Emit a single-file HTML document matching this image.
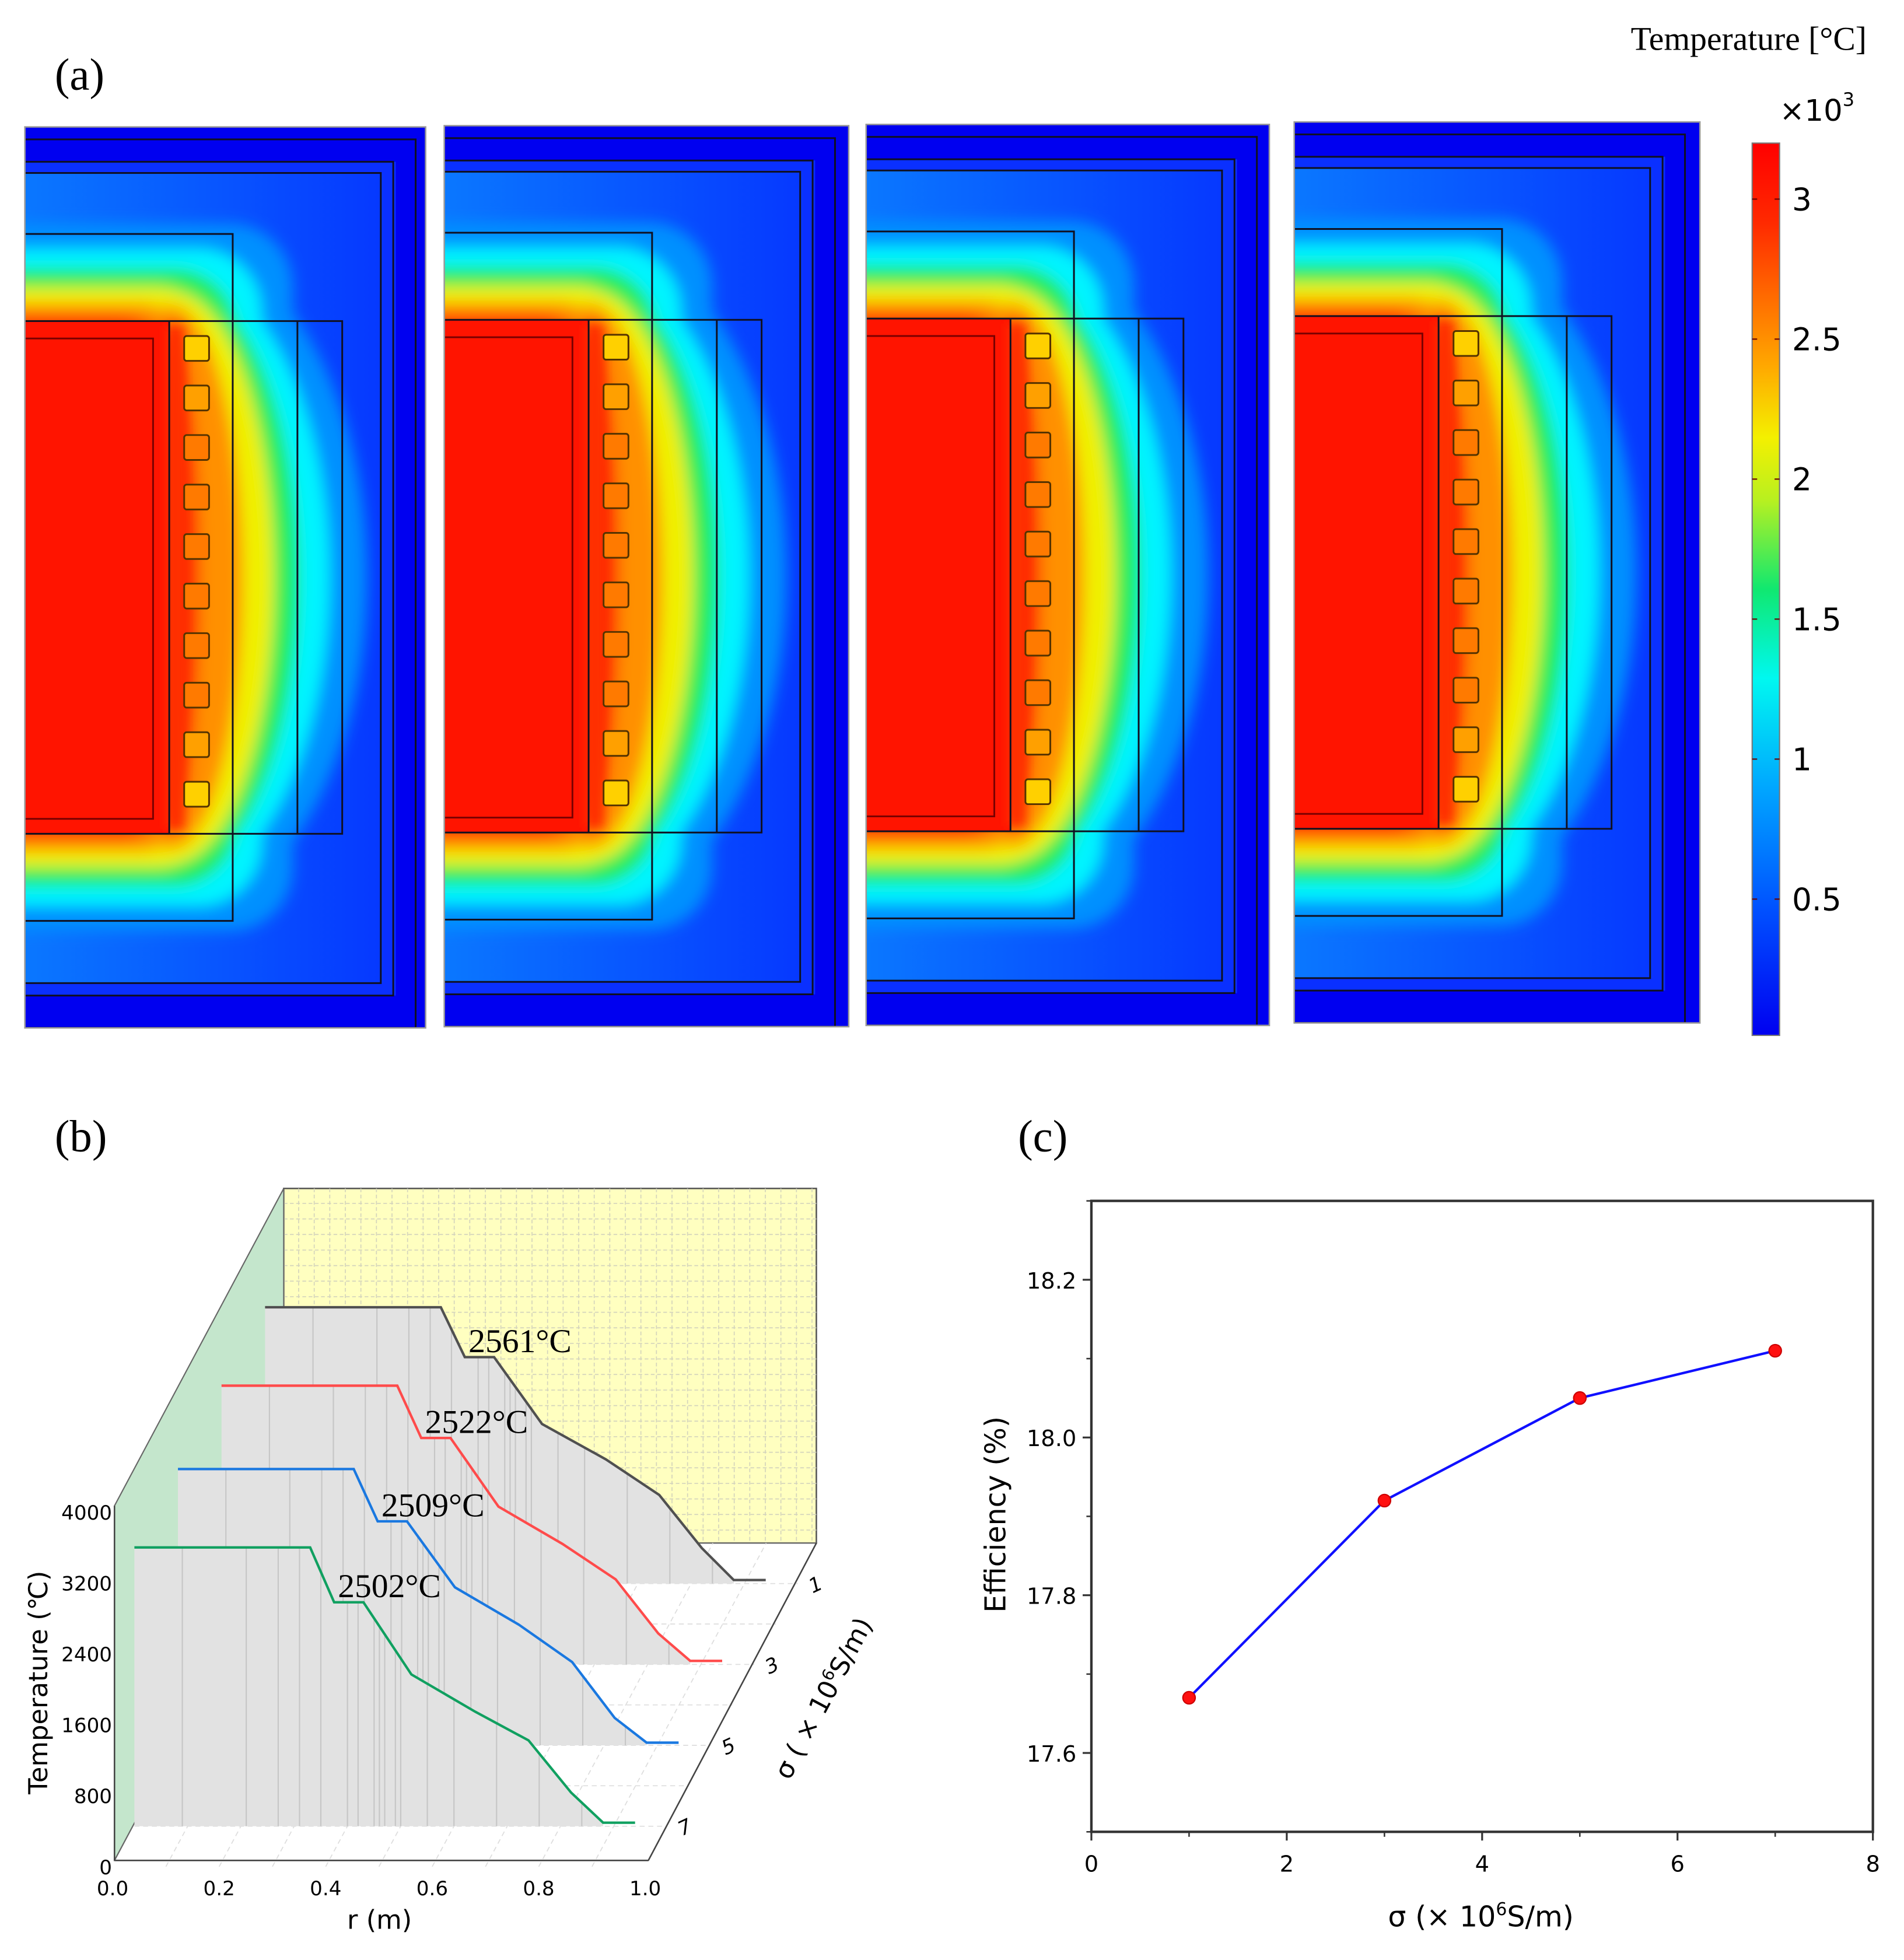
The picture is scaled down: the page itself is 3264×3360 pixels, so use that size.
<!DOCTYPE html>
<html><head><meta charset="utf-8">
<style>
html,body{margin:0;padding:0;background:#fff;}
svg{display:block;}
.serif{font-family:"Liberation Serif",serif;}
.sans{font-family:"DejaVu Sans","Liberation Sans",sans-serif;}
</style></head>
<body>
<svg id="fig" width="3264" height="3360" viewBox="0 0 1530 1575" preserveAspectRatio="none" xmlns="http://www.w3.org/2000/svg">
<defs>
 <filter id="blur" x="-50%" y="-50%" width="200%" height="200%"><feGaussianBlur stdDeviation="6"/></filter>
 <filter id="blur2" x="-50%" y="-50%" width="200%" height="200%"><feGaussianBlur stdDeviation="4"/></filter>
 <linearGradient id="cbar" x1="0" y1="0" x2="0" y2="1">
  <stop offset="0" stop-color="#ff0000"/>
  <stop offset="0.09" stop-color="#ff2a00"/>
  <stop offset="0.25" stop-color="#ffa800"/>
  <stop offset="0.33" stop-color="#f4f000"/>
  <stop offset="0.4" stop-color="#b8f020"/>
  <stop offset="0.5" stop-color="#10e870"/>
  <stop offset="0.6" stop-color="#00f8f0"/>
  <stop offset="0.72" stop-color="#00a8ff"/>
  <stop offset="0.86" stop-color="#0050ff"/>
  <stop offset="1" stop-color="#0000f0"/>
 </linearGradient>
 <linearGradient id="bgblue" x1="0" y1="0" x2="1" y2="0">
  <stop offset="0" stop-color="#0a78ff"/>
  <stop offset="1" stop-color="#0638ff"/>
 </linearGradient>
</defs>

<g id="panelA">
 <text class="serif" x="44" y="72" font-size="36">(a)</text>
 <text class="serif" x="1500" y="40" font-size="27" text-anchor="end">Temperature [°C]</text>
 <g id="sims"></g>
 <rect x="1408" y="115" width="22" height="717" fill="url(#cbar)" stroke="#777" stroke-width="1"/>
 <g id="cbticks"></g>
 <text class="sans" x="1430" y="97" font-size="24">×10<tspan font-size="15" dy="-12">3</tspan></text>
</g>

<g id="panelB">
 <text class="serif" x="44" y="925" font-size="36">(b)</text>
 <g id="b3d"></g>
</g>

<g id="panelC">
 <text class="serif" x="818" y="925" font-size="36">(c)</text>
 <g id="cplot"></g>
</g>
</svg>

<script>
const NS="http://www.w3.org/2000/svg";
function mk(tag, attrs, parent){const e=document.createElementNS(NS,tag);for(const k in attrs)e.setAttribute(k,attrs[k]);if(parent)parent.appendChild(e);return e;}

// ---------- Panel (a) data ----------
const simLefts=[20,357,696,1040];
const simTops=[102,101,100,98];
const simWidths=[322,325,324,326];
const cbTicks=[0.5,1,1.5,2,2.5,3];

const sims=document.getElementById('sims');
simLefts.forEach((L,i)=>{
 const T=simTops[i], W=simWidths[i], dy=T-102;
 const g=mk('g',{transform:`translate(${L},${dy})`},sims);
 
 
 const cid='clip'+i;
 const cp=mk('clipPath',{id:cid},g);
 mk('rect',{x:0,y:102,width:W,height:724},cp);
 const c=mk('g',{'clip-path':`url(#${cid})`},g);
 mk('rect',{x:0,y:102,width:W,height:724,fill:'#0000f0'},c);
 mk('rect',{x:-2,y:130,width:300,height:670,fill:'#0a30ff'},c);
 mk('rect',{x:-2,y:139,width:290,height:651,fill:'url(#bgblue)'},c);
 const f=mk('g',{filter:'url(#blur)'},c);
 // [color, rectRight, top, bottom, ellipseRx, ellipseRy]
 const levels=[
  ['#0090ff',215,180,748,157,270],
  ['#00f4ff',190,200,728,127,250],
  ['#20ec58',170,216,712,102,240],
  ['#f0f000',156,231,697,82,230],
  ['#ff9000',141,244,684,57,218],
  ['#ff2800',126,254,674,22,205]];
 levels.forEach(l=>{
  mk('rect',{x:-60,y:l[2],width:60+l[1],height:l[3]-l[2],rx:50,fill:l[0]},f);
  mk('ellipse',{cx:118,cy:464,rx:l[4],ry:l[5],fill:l[0]},f);
 });
 mk('rect',{x:-2,y:258,width:118,height:412,fill:'#ff1400'},c);
 mk('rect',{x:114,y:262,width:14,height:404,fill:'#ff3000',filter:'url(#blur2)'},c);
 const ln={fill:'none',stroke:'#101020','stroke-width':1.4};
 mk('rect',Object.assign({x:-2,y:112,width:316,height:714},ln),c);
 mk('rect',Object.assign({x:-2,y:130,width:298,height:670},ln),c);
 mk('rect',Object.assign({x:-2,y:139,width:288,height:651},ln),c);
 mk('rect',Object.assign({x:-2,y:188,width:169,height:552},ln),c);
 mk('rect',Object.assign({x:-2,y:258,width:257,height:412},ln),c);
 mk('line',Object.assign({x1:116,y1:258,x2:116,y2:670},ln),c);
 mk('line',Object.assign({x1:219,y1:258,x2:219,y2:670},ln),c);
 mk('rect',Object.assign({x:-2,y:272,width:105,height:386,stroke:'#7a0000'},{fill:'none','stroke-width':1.4}),c);
 for(let k=0;k<10;k++){
  const y=270+k*39.8;
  const col=(k==0||k==9)?'#ffd000':(k==1||k==8?'#ffa000':'#ff7a00');
  const s=mk('rect',{x:128,y:y,width:20,height:20,rx:2,fill:col,stroke:'#553300','stroke-width':1.4},c);
  
  
 }
 mk('rect',{x:0,y:102,width:W,height:724,fill:'none',stroke:'#999','stroke-width':1.2},g);
});

const cbt=document.getElementById('cbticks');
function cbY(v){return 835-v*225;}
cbTicks.forEach(v=>{
 const y=cbY(v);
 mk('line',{x1:1408,y1:y,x2:1412,y2:y,stroke:'#600','stroke-width':1},cbt);
 mk('line',{x1:1426,y1:y,x2:1430,y2:y,stroke:'#600','stroke-width':1},cbt);
 const t=mk('text',{x:1440,y:y+9,'font-size':25,class:'sans'},cbt);
 t.textContent=String(v);
 
 
});

// ---------- Panel (b) data ----------
const rVals=[0.0,0.33,0.375,0.43,0.52,0.64,0.74,0.82,0.88,0.94];
const sigmaVals=[1,3,5,7];
const tempS1=[3116,3116,2554,2554,1800,1400,1000,400,40,40];
const tempS3=[3144,3144,2554,2554,1780,1360,960,350,40,40];
const tempS5=[3116,3116,2526,2526,1782,1361,940,309,30,30];
const tempS7=[3144,3144,2526,2526,1712,1291,968,379,40,40];
const seriesTemps=[tempS1,tempS3,tempS5,tempS7];
const seriesColors=['#505050','#ff4b4b','#1a78e0','#10a060'];
const peakLabels=['2561°C','2522°C','2509°C','2502°C'];
const zTicks=[0,800,1600,2400,3200,4000];
const rTicks=[0.0,0.2,0.4,0.6,0.8,1.0];
const meshR=[0.09,0.21,0.27,0.31,0.35,0.4,0.42,0.45,0.46,0.47,0.49,0.5,0.55,0.6,0.68,0.76,0.84];

function px(r,s){return 93+r*428+137.5-17.5*s;}
function py(T,s){return 1240+s*32.5-T*0.07125;}
function interpT(arr,r){for(let i=0;i<rVals.length-1;i++){if(r>=rVals[i]&&r<=rVals[i+1]){const t=(r-rVals[i])/(rVals[i+1]-rVals[i]);return arr[i]+t*(arr[i+1]-arr[i]);}}return 0;}

const b=document.getElementById('b3d');
const wall=mk('rect',{x:228,y:955,width:428,height:285,fill:'#ffffc0',stroke:'#555','stroke-width':1.2},b);


for(let x=240;x<656;x+=12.5) mk('line',{x1:x,y1:955,x2:x,y2:1240,stroke:'#d4d4bc','stroke-width':0.8,'stroke-dasharray':'3,2'},b);
for(let y=967;y<1240;y+=12.5) mk('line',{x1:228,y1:y,x2:656,y2:y,stroke:'#d4d4bc','stroke-width':0.8,'stroke-dasharray':'3,2'},b);
const side=mk('polygon',{points:'228,955 228,1240 92,1495 92,1210',fill:'#c4e6cc',stroke:'#666','stroke-width':1},b);


const floor=mk('polygon',{points:'92,1495 521,1495 656,1240 228,1240',fill:'#fff',stroke:'#666','stroke-width':1},b);


for(let k=1;k<10;k++){const r=k/10;mk('line',{x1:px(r,8),y1:py(0,8),x2:px(r,0),y2:py(0,0),stroke:'#ddd','stroke-width':0.8,'stroke-dasharray':'4,3'},b);}
for(let s=1;s<8;s++){mk('line',{x1:px(0,s),y1:py(0,s),x2:px(1,s),y2:py(0,s),stroke:'#ddd','stroke-width':0.8,'stroke-dasharray':'4,3'},b);}

sigmaVals.forEach((s,i)=>{
 const arr=seriesTemps[i];
 const sg=mk('g',{},b);
 
 
 let pts=`${px(rVals[0],s)},${py(0,s)} `;
 const n=rVals.length;
 for(let k=0;k<n-1;k++) pts+=`${px(rVals[k],s)},${py(arr[k],s)} `;
 pts+=`${px(rVals[n-2],s)},${py(0,s)}`;
 mk('polygon',{points:pts,fill:'#e2e2e2',stroke:'none'},sg);
 meshR.forEach(r=>{if(r<rVals[n-2]){mk('line',{x1:px(r,s),y1:py(0,s),x2:px(r,s),y2:py(interpT(arr,r),s),stroke:'#c6c6c6','stroke-width':1},sg);}});
 let lp='';
 for(let k=0;k<n;k++) lp+=`${px(rVals[k],s)},${py(arr[k],s)} `;
 const pl=mk('polyline',{points:lp,fill:'none',stroke:seriesColors[i],'stroke-width':2},sg);
 
 
 const t=mk('text',{x:px(rVals[2],s)+3,y:py(arr[2],s)-4,'font-size':27,class:'serif'},sg);
 t.textContent=peakLabels[i];
 
 
 const lx=px(1,s)+12, ly=py(0,s)+8;
 const st=mk('text',{x:lx,y:ly,'font-size':16,'font-style':'italic',class:'sans',transform:`rotate(-25 ${lx} ${ly})`},b);
 st.textContent=String(s);
 
 
});
mk('line',{x1:92,y1:1495,x2:521,y2:1495,stroke:'#444','stroke-width':1.2},b);
mk('line',{x1:521,y1:1495,x2:656,y2:1240,stroke:'#444','stroke-width':1.2},b);
mk('line',{x1:92,y1:1210,x2:92,y2:1495,stroke:'#444','stroke-width':1.2},b);
zTicks.forEach(v=>{
 const y=py(v,8);
 const t=mk('text',{x:90,y:y+6,'font-size':16,'text-anchor':'end',class:'sans'},b);
 t.textContent=String(v);
 
 
});
rTicks.forEach(v=>{
 const t=mk('text',{x:px(v,8),y:1523,'font-size':16,'text-anchor':'middle',class:'sans'},b);
 t.textContent=v.toFixed(1);
 
 
});
let t;
t=mk('text',{x:305,y:1550,'font-size':21,'text-anchor':'middle',class:'sans'},b);t.textContent='r (m)';


t=mk('text',{x:0,y:0,'font-size':21,'text-anchor':'middle',class:'sans',transform:'translate(38,1352) rotate(-90)'},b);t.textContent='Temperature (℃)';


t=mk('text',{x:0,y:0,'font-size':21,'text-anchor':'middle',class:'sans',transform:'translate(668,1368) rotate(-62)'},b);
t.innerHTML='σ ( × 10<tspan font-size="13" dy="-8">6</tspan><tspan dy="8">S/m)</tspan>';



// ---------- Panel (c) data ----------
const effSigma=[1,3,5,7];
const effValues=[17.67,17.92,18.05,18.11];
const cxTicks=[0,2,4,6,8];
const cyTicks=[17.6,17.8,18.0,18.2];
const cyMinor=[17.5,17.7,17.9,18.1,18.3];
const cxMinor=[1,3,5,7];
const CX0=877,CX1=1505,CY0=1472,CY1=965;
function cx(v){return CX0+(v-0)/(8-0)*(CX1-CX0);}
function cy(v){return CY0-(v-17.5)/(18.3-17.5)*(CY0-CY1);}
const c=document.getElementById('cplot');
const frame=mk('rect',{x:CX0,y:CY1,width:CX1-CX0,height:CY0-CY1,fill:'none',stroke:'#333','stroke-width':2},c);


cxTicks.forEach(v=>{
 mk('line',{x1:cx(v),y1:CY0,x2:cx(v),y2:CY0+7,stroke:'#333','stroke-width':1.5},c);
 const tt=mk('text',{x:cx(v),y:CY0+32,'font-size':18,'text-anchor':'middle',class:'sans'},c);
 tt.textContent=String(v);
 
 
});
cxMinor.forEach(v=>mk('line',{x1:cx(v),y1:CY0,x2:cx(v),y2:CY0+4,stroke:'#333','stroke-width':1.2},c));
cyTicks.forEach(v=>{
 mk('line',{x1:CX0-7,y1:cy(v),x2:CX0,y2:cy(v),stroke:'#333','stroke-width':1.5},c);
 const tt=mk('text',{x:CX0-12,y:cy(v)+7,'font-size':18,'text-anchor':'end',class:'sans'},c);
 tt.textContent=v.toFixed(1);
 
 
});
cyMinor.forEach(v=>mk('line',{x1:CX0-4,y1:cy(v),x2:CX0,y2:cy(v),stroke:'#333','stroke-width':1.2},c));
let lpts=effSigma.map((s,i)=>`${cx(s)},${cy(effValues[i])}`).join(' ');
const eline=mk('polyline',{points:lpts,fill:'none',stroke:'#1010ff','stroke-width':2},c);


effSigma.forEach((s,i)=>{
 const d=mk('circle',{cx:cx(s),cy:cy(effValues[i]),r:5,fill:'#ff1010',stroke:'#c00','stroke-width':1},c);
 
 
});
t=mk('text',{x:1190,y:1548,'font-size':23,'text-anchor':'middle',class:'sans'},c);
t.innerHTML='σ (× 10<tspan font-size="14" dy="-9">6</tspan><tspan dy="9">S/m)</tspan>';


t=mk('text',{x:0,y:0,'font-size':23,'text-anchor':'middle',class:'sans',transform:'translate(808,1217) rotate(-90)'},c);
t.textContent='Efficiency (%)';


</script>
</body></html>
